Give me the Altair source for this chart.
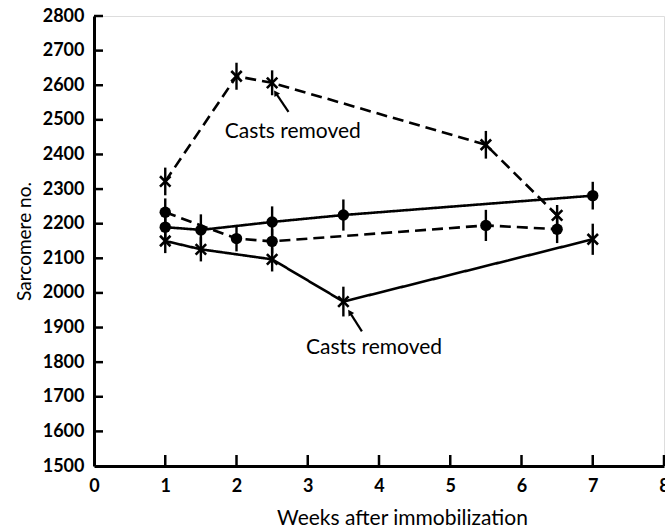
import altair as alt
import pandas as pd

# ---- data ----
weeks_A = [1, 2, 2.5, 5.5, 6.5]
vals_A = [2322, 2626, 2607, 2428, 2224]
err_A = [40, 39, 36, 40, 30]

weeks_B = [1, 1.5, 2.5, 3.5, 7]
vals_B = [2190, 2182, 2205, 2225, 2281]
err_B = [40, 45, 45, 45, 40]

weeks_C = [1, 2, 2.5, 5.5, 6.5]
vals_C = [2233, 2157, 2149, 2195, 2184]
err_C = [40, 37, 35, 45, 40]

weeks_D = [1, 1.5, 2.5, 3.5, 7]
vals_D = [2150, 2126, 2097, 1975, 2155]
err_D = [35, 35, 35, 43, 45]

styles = {"A": ("dashed", "x"), "B": ("solid", "dot"), "C": ("dashed", "dot"), "D": ("solid", "x")}

x_ticks = [1, 2, 3, 4, 5, 6, 7, 8]
y_ticks = [1600, 1700, 1800, 1900, 2000, 2100, 2200, 2300, 2400, 2500, 2600, 2700, 2800]
x_labels = [0, 1, 2, 3, 4, 5, 6, 7, 8]
y_labels = [1500, 1600, 1700, 1800, 1900, 2000, 2100, 2200, 2300, 2400, 2500, 2600, 2700, 2800]

ann_text = ["Casts removed", "Casts removed"]
ann_tx = [2.79, 3.93]
ann_ty = [2465, 1841]
arrow_x0 = [2.73, 3.76]
arrow_y0 = [2523, 1889]
arrow_x1 = [2.55, 3.59]
arrow_y1 = [2578, 1944]

rows = []
for s, w, v, e in [("A", weeks_A, vals_A, err_A), ("B", weeks_B, vals_B, err_B),
                   ("C", weeks_C, vals_C, err_C), ("D", weeks_D, vals_D, err_D)]:
    for wi, vi, ei in zip(w, v, e):
        rows.append({"series": s, "week": wi, "value": vi, "lo": vi - ei, "hi": vi + ei,
                     "dash": styles[s][0], "marker": styles[s][1]})
df = pd.DataFrame(rows)

ann = pd.DataFrame({"text": ann_text, "tx": ann_tx, "ty": ann_ty,
                    "x0": arrow_x0, "y0": arrow_y0, "x1": arrow_x1, "y1": arrow_y1})
xt = pd.DataFrame({"w": x_ticks})
yt = pd.DataFrame({"v": y_ticks})

W, H = 570, 450
FONT = "Lato"

xscale = alt.Scale(domain=[0, 8], nice=False, zero=False)
yscale = alt.Scale(domain=[1500, 2800], nice=False, zero=False)

xaxis = alt.Axis(values=x_labels, format="d", title="Weeks after immobilization", ticks=False, grid=False,
                 domainWidth=3, domainColor="black", labelFont=FONT, labelFontSize=18,
                 labelFontWeight="bold", labelColor="black", labelPadding=11, labelFlush=False,
                 titleFont=FONT, titleFontSize=21, titleFontWeight="normal", titleColor="black",
                 titleX=308, titleY=58, titleBaseline="alphabetic", labelOverlap=False)
yaxis = alt.Axis(values=y_labels, format="d", title="Sarcomere no.", ticks=False, grid=False,
                 domainWidth=3, domainColor="black", labelFont=FONT, labelFontSize=18,
                 labelFontWeight="bold", labelColor="black", labelPadding=10, labelFlush=False,
                 titleFont=FONT, titleFontSize=19, titleFontWeight="normal", titleColor="black",
                 titleX=-70, titleBaseline="middle", labelOverlap=False)

def X(f):
    return alt.X(f, scale=xscale, axis=xaxis)

def Y(f):
    return alt.Y(f, scale=yscale, axis=yaxis)

base = alt.Chart(df)

lines = base.mark_line(color="black", strokeWidth=2.6).encode(
    x=X("week:Q"),
    y=Y("value:Q"),
    detail="series:N",
    order="week:Q",
    strokeDash=alt.StrokeDash("dash:N", scale=alt.Scale(domain=["dashed", "solid"], range=[[11, 6], [1, 0]]), legend=None),
)

errs = base.mark_rule(color="black", strokeWidth=2.4).encode(
    x=X("week:Q"), y=Y("lo:Q"), y2="hi:Q",
)

dots = base.transform_filter(alt.datum.marker == "dot").mark_point(
    shape="circle", filled=True, color="black", size=130, opacity=1).encode(
    x=X("week:Q"), y=Y("value:Q"),
)

crosses = base.transform_filter(alt.datum.marker == "x").mark_point(
    shape="M-1,-1L1,1M-1,1L1,-1", filled=False, color="black", size=110, strokeWidth=2.6, opacity=1).encode(
    x=X("week:Q"), y=Y("value:Q"),
)

xtick = alt.Chart(xt).mark_rule(color="black", strokeWidth=2.5).encode(
    x=X("w:Q"), y=alt.value(H), y2=alt.value(H - 11),
)
ytick = alt.Chart(yt).mark_rule(color="black", strokeWidth=2.5).encode(
    y=Y("v:Q"), x=alt.value(0), x2=alt.value(9),
)

ann_base = alt.Chart(ann)
texts = ann_base.mark_text(font=FONT, fontSize=21, color="black", baseline="middle", align="center").encode(
    x=X("tx:Q"), y=Y("ty:Q"), text="text:N",
)
arrows = ann_base.mark_rule(color="black", strokeWidth=2.2).encode(
    x=X("x0:Q"), y=Y("y0:Q"), x2="x1:Q", y2="y1:Q",
)
heads = ann_base.mark_point(shape="triangle-up", filled=True, color="black", size=45, angle=327, opacity=1).encode(
    x=X("x1:Q"), y=Y("y1:Q"),
)

chart = alt.layer(lines, errs, dots, crosses, xtick, ytick, arrows, heads, texts).properties(
    width=W, height=H,
    autosize=alt.AutoSizeParams(type="none"),
    padding={"left": 94, "top": 16, "right": 1, "bottom": 64},
).configure_view(stroke=None).configure(background="white")

chart.save("out.html", embed_options={"renderer": "svg", "actions": False})
